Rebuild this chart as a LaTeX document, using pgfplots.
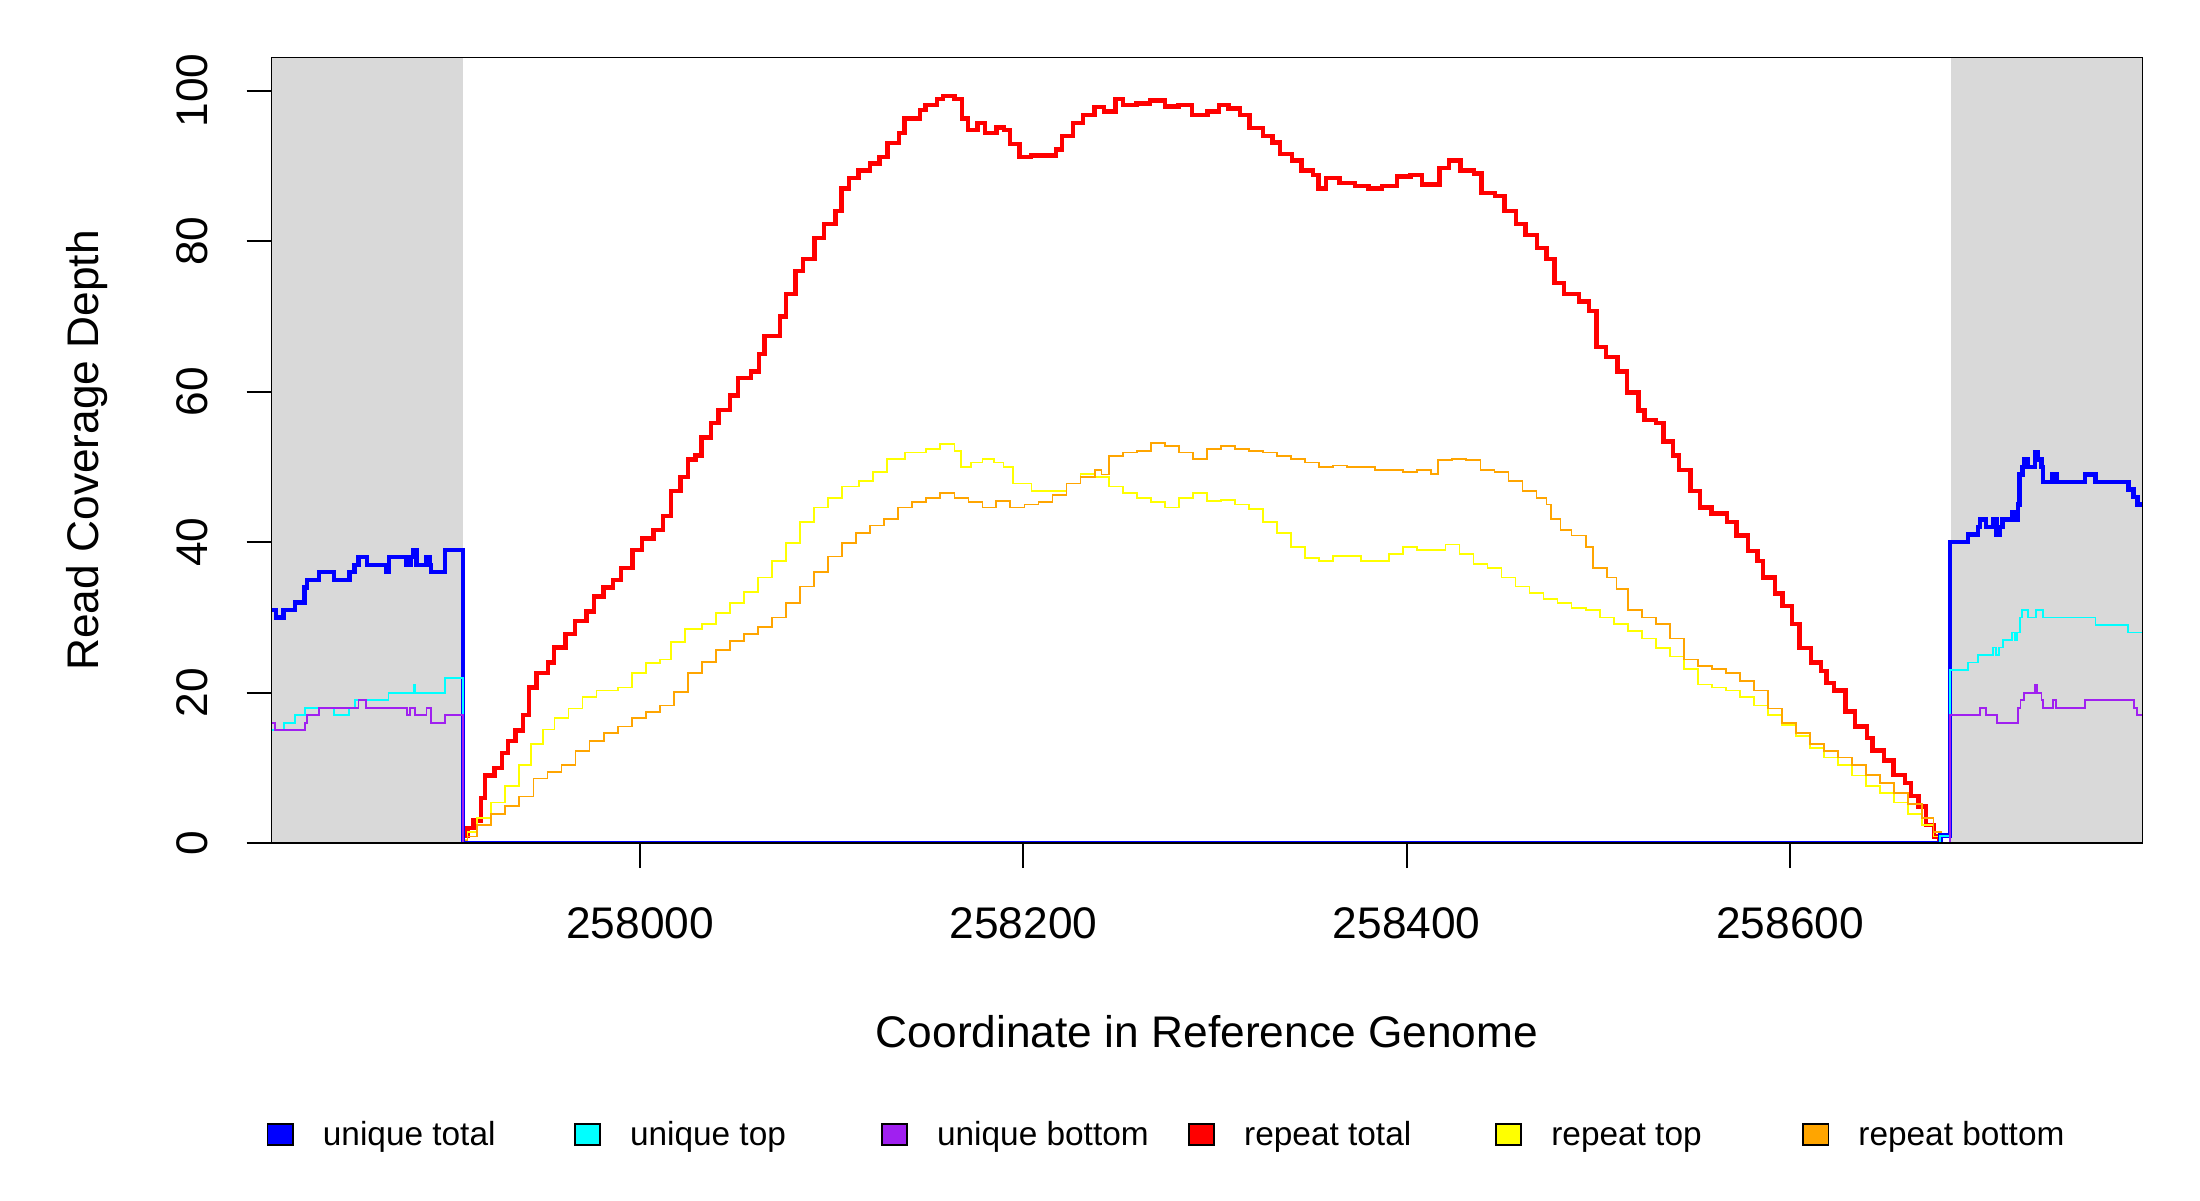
\documentclass[border=0pt]{standalone}
\usepackage{fontspec}
\setmainfont{Liberation Sans}
\usepackage{pgfplots}
\pgfplotsset{compat=1.18}
\usepackage{pgfplotstable}
\definecolor{rpurple}{HTML}{A020F0}
\definecolor{rorange}{HTML}{FFA500}
\definecolor{rgray}{HTML}{D9D9D9}
\definecolor{rcyan}{HTML}{00FFFF}
\definecolor{rblue}{HTML}{0000FF}
\definecolor{rred}{HTML}{FF0000}
\definecolor{ryellow}{HTML}{FFFF00}

\pgfplotstableread{
x y
257907.8 1
257910 2
257913 3
257917 6
257919 9
257924 10
257928 12
257931 13.6
257935 15
257939 17
257942 20.7
257946 22.6
257952 24
257955 26
257961 27.8
257966 29.5
257972 30.8
257976 32.8
257981 34
257986 35
257990 36.6
257996 39
258001 40.5
258007 41.6
258012 43.5
258016 46.8
258021 48.7
258025 51
258029 51.5
258032 53.9
258037 55.8
258041 57.6
258047 59.5
258051 61.8
258058 62.7
258062 65
258065 67.4
258073 70
258076 73
258081 76
258085 77.6
258091 80.4
258096 82.3
258102 84
258105 87
258109 88.4
258114 89.4
258120 90.3
258125 91.2
258129 93
258135 94.4
258138 96.3
258146 97.4
258149 98.1
258155 98.9
258158 99.3
258164 98.9
258168 96.3
258171 94.8
258176 95.7
258180 94.4
258186 95.1
258190 94.8
258193 92.9
258198 91.2
258204 91.4
258212 91.4
258217 92.2
258220 94
258226 95.7
258231 96.8
258237 97.8
258242 97.2
258248 98.9
258252 98.1
258259 98.3
258266 98.7
258274 97.9
258281 98.1
258288 96.8
258296 97.2
258302 98.1
258307 97.6
258313 96.8
258318 95
258325 94
258330 93.1
258334 91.6
258340 90.7
258345 89.4
258351 88.8
258354 87
258358 88.4
258365 87.7
258373 87.3
258380 87
258387 87.3
258395 88.6
258402 88.8
258408 87.5
258414 87.5
258417 89.7
258422 90.7
258428 89.4
258435 89
258439 86.4
258446 86
258451 84
258457 82.3
258462 80.8
258468 79.1
258473 77.6
258477 74.4
258482 73
258490 72
258495 70.7
258499 65.9
258504 64.6
258510 62.7
258515 59.9
258521 57.5
258524 56.2
258530 55.8
258534 53.4
258539 51.5
258542 49.6
258548 46.8
258553 44.6
258559 43.8
258567 42.7
258572 40.9
258578 38.8
258583 37.5
258586 35.3
258592 33.2
258596 31.5
258601 29.1
258605 25.9
258611 24
258616 22.9
258619 21.3
258623 20.3
258629 17.5
258634 15.5
258640 14
258643 12.3
258649 11
258654 9.1
258660 8
258663 6.3
258667 4.9
258671 2.4
258675 0.9
258678 0.2
258678.6 0
}\repeattotal

\pgfplotstableread{
x y
257800 0
257907.8 0.5
257910 1.5
257915.1 3.4
257922.4 5.4
257929.7 7.6
257937.0 10.4
257942.9 13.2
257949.5 15.1
257955.3 16.6
257962.7 17.9
257970.0 19.4
257977.3 20.3
257988.3 20.7
257995.6 22.6
258002.9 23.9
258010.2 24.4
258016.1 26.7
258023.4 28.5
258032.2 29.1
258039.5 30.6
258046.8 31.9
258054.2 33.4
258061.5 35.3
258068.8 37.5
258076.1 39.9
258083.4 42.7
258090.8 44.6
258098.1 45.9
258105.4 47.4
258114.2 48.1
258121.5 49.3
258128.8 51.1
258138.3 51.9
258149.3 52.4
258156.6 53
258164.0 52.1
258167.6 50
258172.8 50.6
258178.6 51.1
258184.5 50.6
258189.6 50
258194.7 47.8
258204.2 46.8
258215.2 46.8
258222.5 47.8
258229.8 49.1
258237.2 48.7
258244.5 47.4
258251.8 46.5
258259.1 45.9
258266.4 45.3
258273.8 44.6
258281.1 45.9
258288.4 46.5
258295.7 45.5
258303.0 45.6
258310.4 45
258317.7 44.4
258325.0 42.7
258332.3 41.2
258339.6 39.4
258347.0 37.9
258354.3 37.5
258361.6 38.2
258368.9 38.2
258376.2 37.5
258383.6 37.5
258390.9 38.4
258398.2 39.4
258405.5 39
258412.8 39
258420.2 39.7
258427.5 38.4
258434.8 37.1
258442.1 36.6
258449.4 35.3
258456.8 34.1
258464.1 33.2
258471.4 32.5
258478.7 31.9
258486.0 31.3
258493.4 31
258500.7 30
258508.0 29.1
258515.3 28.2
258522.6 27.2
258530.0 25.9
258537.3 24.8
258544.6 23.1
258551.9 21.1
258559.2 20.7
258566.6 20.3
258573.9 19.4
258581.2 18.3
258588.5 17
258595.8 15.7
258603.2 14.2
258610.5 12.7
258617.8 11.4
258625.1 10.4
258632.4 9
258639.8 7.6
258647.1 6.7
258654.4 5.4
258661.7 3.9
258669.0 2.4
258674.9 0.9
258678.6 0
258790 0
}\repeattop

\pgfplotstableread{
x y
257800 0
257907.8 0.3
257910 0.9
257915.1 2.4
257922.4 3.9
257929.7 4.9
257937.0 6.2
257944.4 8.6
257951.7 9.5
257959.0 10.4
257966.3 12.3
257973.6 13.6
257981.0 14.6
257988.3 15.5
257995.6 16.6
258002.9 17.4
258010.2 18.3
258017.6 20.1
258024.9 22.6
258032.2 24.1
258039.5 25.7
258046.8 26.9
258054.2 27.8
258061.5 28.7
258068.8 30
258076.1 31.9
258083.4 34.1
258090.8 36
258098.1 38.1
258105.4 39.9
258112.7 41.2
258120.0 42.2
258127.4 43.1
258134.7 44.6
258142.0 45.3
258149.3 45.9
258156.6 46.5
258164.0 45.9
258171.3 45.3
258178.6 44.6
258185.9 45.5
258193.2 44.6
258200.6 45
258207.9 45.3
258215.2 46.3
258222.5 47.8
258229.8 48.7
258237.2 49.6
258240.8 49
258244.5 51.5
258251.8 51.9
258259.1 52.1
258266.4 53.2
258273.8 52.8
258281.1 51.9
258288.4 51.1
258295.7 52.4
258303.0 52.8
258310.4 52.4
258317.7 52.1
258325.0 51.9
258332.3 51.5
258339.6 51.1
258347.0 50.6
258354.3 50
258361.6 50.2
258368.9 50
258376.2 50
258383.6 49.6
258390.9 49.6
258398.2 49.3
258405.5 49.6
258412.8 49.1
258416.5 50.9
258423.8 51.1
258431.1 50.9
258438.5 49.6
258445.8 49.3
258453.1 48.1
258460.4 46.8
258467.7 45.9
258472.9 45
258475.1 43.1
258480.2 41.6
258486.0 40.9
258493.4 39.4
258497.0 36.6
258504.3 35.3
258509.5 33.8
258515.3 31
258522.6 30
258530.0 29.1
258537.3 27.2
258544.6 24.4
258551.9 23.5
258559.2 23.1
258566.6 22.6
258573.9 21.6
258581.2 20.3
258588.5 17.9
258595.8 16
258603.2 14.6
258610.5 13.2
258617.8 12.3
258625.1 11.4
258632.4 10.4
258639.8 9.1
258647.1 8
258654.4 6.7
258661.7 5.2
258669.0 3.4
258674.9 1.5
258678.6 0
258790 0
}\repeatbottom

\pgfplotstableread{
x y
257800 31
257810 30
257814 31
257820 32
257825 34
257826.3 35
257832.4 36
257840.2 35
257848.3 36
257851 37
257853.1 38
257857.4 37
257867.8 36
257869 38
257878.2 37
257880.4 38
257881.6 39
257883.4 37
257888.6 38
257890.3 37
257890.8 36
257898.1 39
257907.6 0
258678.4 1
258683.6 40
258692.8 41
258698.1 42
258699 43
258702.1 42
258706 43
258707.8 41
258709.5 42
258710.8 43
258715.8 44
258718 43
258719 45
258719.8 49
258721.2 50
258721.9 51
258724.2 50
258727.7 52
258729.5 51
258731.2 50
258732.1 48
258737 49
258739.1 48
258754 49
258759.3 48
258776.5 47
258779.1 46
258781.2 45
258790 45
}\uniquetotal

\pgfplotstableread{
x y
257800 15
257814.2 16
257819.9 17
257825.1 18
257840.2 17
257848.3 18
257851.4 19
257868.7 20
257882.1 21
257882.8 20
257898.1 22
257907.6 0
258678.4 1
258683.6 23
258692.8 24
258698.1 25
258706 26
258707.4 25
258709 26
258711.2 27
258715.8 28
258717.2 27
258718.4 28
258719.8 30
258721.2 31
258724.2 30
258728.2 31
258732.1 30
258759.3 29
258776.5 28
258790 28
}\uniquetop

\pgfplotstableread{
x y
257800 16
257809.5 15
257825 16
257826.3 17
257832.4 18
257853.1 19
257856.9 18
257878.2 17
257880 18
257882.7 17
257888.6 18
257890.8 16
257898.1 17
257907.6 0
258683.6 17
258699 18
258702.1 17
258708.1 16
258719 18
258720.2 19
258721.9 20
258727.7 21
258728.9 20
258731.2 19
258732.1 18
258737 19
258738.8 18
258754 19
258779.4 18
258781.2 17
258790 17
}\uniquebottom

\begin{document}
\begin{tikzpicture}
\path[use as bounding box] (-2.715cm,-3.568cm) rectangle (19.285cm,8.432cm);
\begin{axis}[
  scale only axis, width=18.71cm, height=7.857cm,
  at={(0,0)}, anchor=south west,
  xmin=257807.7, xmax=258783.9, ymin=0, ymax=104.4,
  xtick={258000,258200,258400,258600},
  ytick={0,20,40,60,80,100},
  scaled x ticks=false, scaled y ticks=false,
  /pgf/number format/fixed,
  /pgf/number format/precision=0,
  /pgf/number format/1000 sep={},
  /pgf/number format/assume math mode=true,
  tick align=outside, xtick pos=bottom, ytick pos=left,
  major tick length=0.25cm,
  tick style={black, line width=0.55pt},
  axis line style={black, line width=0.55pt},
  ticklabel style={font=\fontsize{12.6}{15}\selectfont},
  label style={font=\fontsize{12.6}{15}\selectfont},
  xticklabel style={anchor=center, yshift=-0.55cm},
  yticklabel style={rotate=90, anchor=center, yshift=0.545cm},
  xlabel={Coordinate in Reference Genome},
  ylabel={Read Coverage Depth},
  xlabel style={at={(axis description cs:0.5,0)}, anchor=center, yshift=-1.88cm},
  ylabel style={at={(axis description cs:0,0.5)}, anchor=center, yshift=1.84cm},
  axis on top,
]
\addplot[fill=rgray, draw=none] coordinates {(257800,110) (257907.8,110)} \closedcycle;
\addplot[fill=rgray, draw=none] coordinates {(258684.2,110) (258790,110)} \closedcycle;
\addplot[const plot mark left, rred, line width=1.25pt] table[x=x,y=y] {\repeattotal};
\addplot[const plot mark left, ryellow, line width=0.5pt] table[x=x,y=y] {\repeattop};
\addplot[const plot mark left, rorange, line width=0.5pt] table[x=x,y=y] {\repeatbottom};
\addplot[const plot mark left, rblue, line width=1.25pt] table[x=x,y=y] {\uniquetotal};
\addplot[const plot mark left, rcyan, line width=0.5pt] table[x=x,y=y] {\uniquetop};
\addplot[const plot mark left, rpurple, line width=0.5pt] table[x=x,y=y] {\uniquebottom};
\end{axis}
\begin{scope}[font=\fontsize{9.5}{11}\selectfont]
\filldraw[fill=rblue, draw=black, line width=0.5pt] (-0.039cm,-3.02cm) rectangle ++(0.253cm,0.21cm);
\node[anchor=base west, inner sep=0pt] at (0.507cm,-3.025cm) {unique total};
\filldraw[fill=rcyan, draw=black, line width=0.5pt] (3.032cm,-3.02cm) rectangle ++(0.253cm,0.21cm);
\node[anchor=base west, inner sep=0pt] at (3.578cm,-3.025cm) {unique top};
\filldraw[fill=rpurple, draw=black, line width=0.5pt] (6.103cm,-3.02cm) rectangle ++(0.253cm,0.21cm);
\node[anchor=base west, inner sep=0pt] at (6.649cm,-3.025cm) {unique bottom};
\filldraw[fill=rred, draw=black, line width=0.5pt] (9.174cm,-3.02cm) rectangle ++(0.253cm,0.21cm);
\node[anchor=base west, inner sep=0pt] at (9.720cm,-3.025cm) {repeat total};
\filldraw[fill=ryellow, draw=black, line width=0.5pt] (12.245cm,-3.02cm) rectangle ++(0.253cm,0.21cm);
\node[anchor=base west, inner sep=0pt] at (12.791cm,-3.025cm) {repeat top};
\filldraw[fill=rorange, draw=black, line width=0.5pt] (15.316cm,-3.02cm) rectangle ++(0.253cm,0.21cm);
\node[anchor=base west, inner sep=0pt] at (15.862cm,-3.025cm) {repeat bottom};
\end{scope}
\end{tikzpicture}
\end{document}
